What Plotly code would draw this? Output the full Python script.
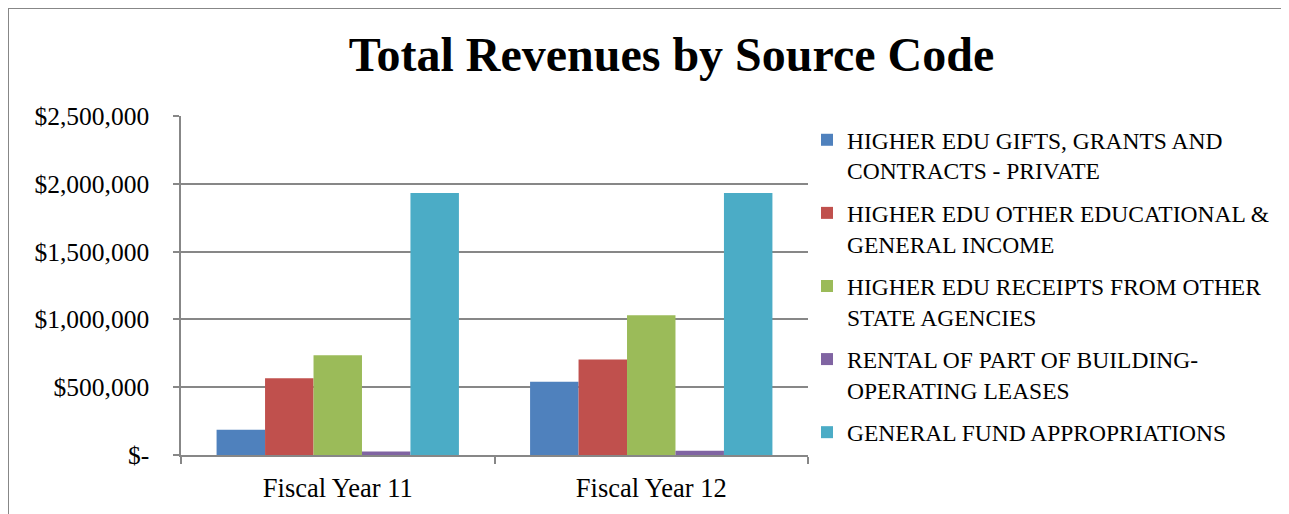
import plotly.graph_objects as go

categories = ["Fiscal Year 11", "Fiscal Year 12"]
series_names = [
    "HIGHER EDU GIFTS, GRANTS AND<br>CONTRACTS - PRIVATE",
    "HIGHER EDU OTHER EDUCATIONAL &amp;<br>GENERAL INCOME",
    "HIGHER EDU RECEIPTS FROM OTHER<br>STATE AGENCIES",
    "RENTAL OF PART OF BUILDING-<br>OPERATING LEASES",
    "GENERAL FUND APPROPRIATIONS",
]
gifts_grants = [186000, 540000]
other_edu = [566000, 704000]
state_agencies = [735000, 1031000]
rental = [25000, 32000]
general_fund = [1932000, 1932000]
series_values = [gifts_grants, other_edu, state_agencies, rental, general_fund]
colors = ["#4F81BD", "#C0504D", "#9BBB59", "#8064A2", "#4BACC6"]

y_tickvals = [0, 500000, 1000000, 1500000, 2000000, 2500000]
y_ticktext = ["$-", "$500,000", "$1,000,000", "$1,500,000", "$2,000,000", "$2,500,000"]

# page has an 8px body margin; work in figure pixel coordinates
OFF = 8
W, H = 1289 - OFF, 514 - OFF
L, R, T, B = 181 - OFF, 808 - OFF, 116 - OFF, 455 - OFF
pw, ph = R - L, B - T

def px_x(p):
    return (p - OFF - L) / pw

def px_y(p):
    return (B - (p - OFF)) / ph

grid = "#878787"
font_family = "Liberation Serif, Times New Roman, serif"

fig = go.Figure()
for i, (name, vals, col) in enumerate(zip(series_names, series_values, colors)):
    fig.add_trace(go.Bar(
        x=categories, y=vals, name=name,
        marker=dict(color=col, line=dict(width=0)),
        legendgroup=f"g{i}",
    ))

fig.update_layout(
    width=W, height=H,
    margin=dict(l=L, r=W - R, t=T, b=H - B, pad=0, autoexpand=False),
    paper_bgcolor="white", plot_bgcolor="white",
    barmode="group", bargap=0.227, bargroupgap=0,
    font=dict(family=font_family, color="black"),
    title=dict(text="<b>Total Revenues by Source Code</b>",
               font=dict(size=48, family=font_family, color="black"),
               x=(671.5 - OFF) / W, xref="container", xanchor="center",
               y=1 - (54 - OFF) / H, yref="container", yanchor="middle"),
    legend=dict(
        x=px_x(807), xanchor="left",
        y=px_y(118), yanchor="top",
        font=dict(size=23.5, family=font_family, color="black"),
        traceorder="grouped", tracegroupgap=9, valign="top",
        bgcolor="rgba(0,0,0,0)",
    ),
    showlegend=True,
)
fig.update_xaxes(
    showgrid=False, showline=True, linecolor=grid, linewidth=1.5,
    ticks="outside", tickson="boundaries", ticklen=7, tickcolor=grid, tickwidth=1.5,
    tickfont=dict(size=26.5, family=font_family, color="black"),
    ticklabelstandoff=8,
)
fig.update_yaxes(
    range=[0, 2500000], tickvals=y_tickvals, ticktext=y_ticktext,
    showgrid=True, gridcolor=grid, gridwidth=1.5,
    showline=True, linecolor=grid, linewidth=1.5,
    ticks="outside", ticklen=6, tickcolor=grid, tickwidth=1.5,
    tickfont=dict(size=25.5, family=font_family, color="black"),
    ticklabelstandoff=19, zeroline=False,
)
fig.add_shape(type="rect", xref="paper", yref="paper",
              x0=px_x(8), x1=px_x(1286), y0=px_y(540), y1=px_y(8),
              line=dict(color=grid, width=2), fillcolor="rgba(0,0,0,0)", layer="below")

fig.write_html("out.html")
